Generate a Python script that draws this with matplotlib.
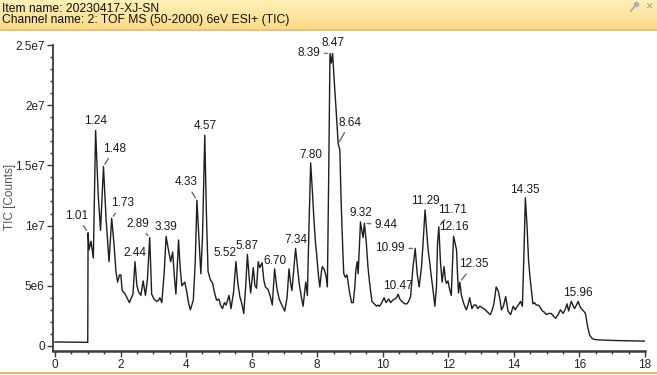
import matplotlib
matplotlib.use("Agg")
import matplotlib.pyplot as plt
import numpy as np
from matplotlib.ticker import MultipleLocator

plt.rcParams["font.family"] = ["Liberation Sans", "DejaVu Sans"]

ITEM_NAME = "Item name: 20230417-XJ-SN"
CHANNEL_NAME = "Channel name: 2: TOF MS (50-2000) 6eV ESI+ (TIC)"
Y_LABEL = "TIC [Counts]"

# retention time (min) and TIC (x1e6 counts)
rt = [
    0.00, 0.99, 1.00, 1.01, 1.04, 1.10, 1.17, 1.24, 1.32, 1.39, 1.48, 1.56, 1.65, 1.73, 1.80,
    1.86, 1.91, 1.97, 2.01, 2.05, 2.12, 2.18, 2.27, 2.33, 2.38, 2.44, 2.50, 2.55, 2.62, 2.69,
    2.76, 2.82, 2.89, 2.95, 3.02, 3.10, 3.16, 3.20, 3.26, 3.33, 3.39, 3.46, 3.53, 3.59, 3.65,
    3.69, 3.73, 3.77, 3.82, 3.87, 3.93, 3.96, 4.02, 4.08, 4.13, 4.22, 4.28, 4.33, 4.38, 4.45,
    4.50, 4.57, 4.62, 4.67, 4.74, 4.81, 4.87, 4.93, 5.00, 5.05, 5.11, 5.17, 5.22, 5.31, 5.37,
    5.45, 5.52, 5.58, 5.64, 5.70, 5.76, 5.82, 5.87, 5.93, 5.97, 6.05, 6.10, 6.15, 6.20, 6.25,
    6.28, 6.32, 6.37, 6.42, 6.50, 6.57, 6.63, 6.70, 6.77, 6.84, 6.92, 7.01, 7.08, 7.14, 7.19,
    7.23, 7.29, 7.34, 7.40, 7.45, 7.52, 7.57, 7.62, 7.65, 7.70, 7.75, 7.80, 7.85, 7.90, 7.95,
    7.98, 8.04, 8.08, 8.13, 8.16, 8.22, 8.27, 8.31, 8.35, 8.39, 8.43, 8.47, 8.52, 8.57, 8.64,
    8.69, 8.73, 8.78, 8.81, 8.86, 8.91, 8.99, 9.05, 9.10, 9.15, 9.18, 9.22, 9.25, 9.29, 9.32,
    9.36, 9.40, 9.44, 9.50, 9.55, 9.60, 9.67, 9.74, 9.81, 9.85, 9.90, 9.97, 10.04, 10.10, 10.18,
    10.24, 10.30, 10.37, 10.42, 10.47, 10.52, 10.58, 10.67, 10.74, 10.79, 10.85, 10.92, 10.99, 11.05, 11.11,
    11.18, 11.24, 11.29, 11.34, 11.38, 11.43, 11.48, 11.54, 11.59, 11.64, 11.67, 11.71, 11.76, 11.81, 11.87,
    11.91, 11.94, 11.99, 12.04, 12.09, 12.13, 12.16, 12.21, 12.25, 12.28, 12.31, 12.35, 12.40, 12.45, 12.50,
    12.55, 12.61, 12.65, 12.72, 12.78, 12.84, 12.90, 12.96, 13.03, 13.13, 13.20, 13.28, 13.34, 13.39, 13.46,
    13.53, 13.58, 13.62, 13.68, 13.75, 13.82, 13.90, 13.98, 14.04, 14.08, 14.16, 14.20, 14.26, 14.31, 14.35,
    14.40, 14.45, 14.50, 14.58, 14.63, 14.68, 14.73, 14.78, 14.87, 14.93, 14.99, 15.06, 15.14, 15.20, 15.27,
    15.35, 15.42, 15.50, 15.56, 15.62, 15.67, 15.75, 15.80, 15.85, 15.91, 15.96, 16.03, 16.09, 16.16, 16.19,
    16.25, 16.31, 16.38, 16.43, 16.61, 17.10, 18.00,
]
tic = [
    0.33, 0.30, 0.30, 9.40, 8.00, 8.70, 7.30, 17.90, 12.50, 9.60, 14.90, 10.50, 7.00, 10.60, 8.50,
    6.20, 5.30, 5.90, 5.90, 4.60, 4.40, 4.10, 3.60, 4.00, 4.30, 7.00, 5.00, 4.50, 4.20, 5.40,
    4.20, 5.50, 9.00, 4.30, 3.90, 3.70, 3.80, 4.00, 3.60, 6.00, 9.10, 8.00, 7.00, 7.80, 5.50,
    4.30, 6.50, 8.80, 6.50, 5.00, 5.20, 5.30, 4.50, 3.50, 3.00, 3.80, 7.00, 12.10, 9.50, 6.00,
    9.00, 17.50, 11.00, 6.20, 5.50, 5.20, 4.40, 3.80, 3.90, 3.40, 3.10, 3.60, 3.40, 4.20, 3.10,
    4.50, 7.00, 5.20, 4.10, 3.50, 2.70, 5.00, 7.60, 5.50, 4.40, 6.50, 5.00, 4.80, 7.00, 6.50,
    6.70, 6.90, 5.50, 4.90, 4.70, 4.10, 3.40, 6.40, 4.80, 3.90, 3.40, 2.90, 4.00, 6.40, 5.20,
    4.60, 6.50, 8.10, 6.50, 5.20, 4.00, 3.30, 4.50, 5.30, 4.20, 10.00, 15.20, 13.00, 10.50, 8.50,
    7.70, 5.80, 4.90, 6.20, 6.60, 6.30, 5.80, 4.90, 14.00, 24.30, 23.50, 24.30, 22.00, 19.90, 16.80,
    16.30, 12.00, 8.00, 6.00, 5.70, 5.90, 4.40, 3.60, 3.60, 5.00, 6.30, 7.00, 6.00, 8.50, 10.30,
    9.60, 9.00, 10.20, 8.50, 6.50, 5.20, 3.70, 3.50, 3.30, 3.40, 3.30, 3.60, 4.00, 3.60, 3.90,
    3.60, 3.80, 3.90, 4.00, 4.30, 3.90, 3.70, 3.50, 3.50, 3.70, 4.10, 6.50, 8.10, 6.00, 4.90,
    6.50, 9.00, 11.30, 9.50, 8.10, 7.00, 5.80, 4.50, 3.30, 5.00, 8.50, 9.90, 7.00, 5.30, 6.60,
    5.50, 5.20, 5.40, 4.70, 4.20, 7.00, 9.10, 8.50, 8.00, 6.00, 4.40, 5.30, 4.20, 3.70, 3.30,
    3.00, 3.50, 4.00, 3.10, 3.40, 3.40, 3.10, 3.30, 3.20, 3.00, 2.80, 2.60, 3.00, 3.50, 4.90,
    4.50, 3.80, 3.00, 3.30, 4.10, 2.90, 2.60, 3.30, 3.00, 3.20, 3.50, 3.70, 3.30, 8.00, 12.30,
    10.00, 7.00, 5.50, 3.50, 3.60, 3.40, 3.40, 3.30, 2.90, 2.80, 2.60, 2.70, 2.70, 2.50, 2.30,
    2.60, 3.00, 2.70, 3.00, 3.50, 2.90, 3.70, 3.40, 3.10, 3.40, 3.70, 3.20, 3.00, 2.80, 2.60,
    1.60, 0.90, 0.65, 0.55, 0.50, 0.45, 0.40,
]

peak_labels = [
    "1.01", "1.24", "1.48", "1.73", "2.44", "2.89", "3.39", "4.33", "4.57", "5.52",
    "5.87", "6.70", "7.34", "7.80", "8.39", "8.47", "8.64", "9.32", "9.44", "10.47",
    "10.99", "11.29", "11.71", "12.16", "12.35", "14.35", "15.96",
]

y_ticks = [0, 5e6, 1e7, 1.5e7, 2e7, 2.5e7]
y_tick_labels = ["0", "5e6", "1e7", "1.5e7", "2e7", "2.5e7"]
x_ticks = [0, 2, 4, 6, 8, 10, 12, 14, 16, 18]

# label placement (pixels from the peak apex) and whether a leader line is drawn
label_offsets = {
    "1.01": (-11, 17, True), "1.24": (0, 9, False), "1.48": (11, 18, True),
    "1.73": (11, 15, True), "2.44": (0, 9, False), "2.89": (-12, 14, True),
    "3.39": (0, 9, False), "4.33": (-11, 18, True), "4.57": (0, 9, False),
    "5.52": (-11, 9, True), "5.87": (0, 8, False), "6.70": (0, 8, False),
    "7.34": (0, 8, False), "7.80": (0, 8, False), "8.39": (-21, 0, True),
    "8.47": (0, 10, False), "8.64": (12, 21, True), "9.32": (0, 9, False),
    "9.44": (22, -2, True), "10.47": (0, 8, False), "10.99": (-25, 0, True),
    "11.29": (0, 9, False), "11.71": (14, 17, True), "12.16": (0, 9, False),
    "12.35": (14, 18, True), "14.35": (0, 8, False), "15.96": (0, 8, False),
}

W, H = 657, 375
fig = plt.figure(figsize=(W / 100, H / 100), dpi=100)
fig.patch.set_facecolor("white")

# header band
hdr = fig.add_axes([0, 1 - 29 / H, 1, 29 / H])
grad = np.linspace(0, 1, 50)[:, None]
hdr.imshow(grad, aspect="auto", extent=[0, 1, 0, 1],
           cmap=matplotlib.colors.LinearSegmentedColormap.from_list("hdr", ["#fff0b8", "#fbdb8a"]))
hdr.set_xlim(0, 1)
hdr.set_ylim(0, 1)
hdr.axis("off")
hdr.text(2 / W, 0.70, ITEM_NAME, fontsize=8.7, color="#111111", va="center", ha="left")
hdr.text(2 / W, 0.32, CHANNEL_NAME, fontsize=8.7, color="#111111", va="center", ha="left")
hdr.text(649 / W, 0.78, "\u00d7", fontsize=9, color="#9a9a9a", va="center", ha="center")
hdr.plot([631 / W, 637 / W], [0.62, 0.9], color="#a8a8a8", lw=1.2)
hdr.plot([636 / W], [0.85], marker="o", ms=3, color="#b0b0b0")
fig.add_artist(plt.Line2D([0, 1], [1 - 29.5 / H, 1 - 29.5 / H], color="#e2bb55", lw=1.2))
fig.add_artist(plt.Line2D([0, 1], [2 / H, 2 / H], color="#e2bb55", lw=1.5))

ax = fig.add_axes([53 / W, (H - 351) / H, (645 - 53) / W, (351 - 45) / H])
t = np.array(rt)
y = np.array(tic) * 1e6
ax.plot(t, y, color="#1e1e1e", lw=1.0)

ax.set_xlim(-0.06, 18)
ax.set_ylim(-0.42e6, 2.5e7)
ax.set_xticks(x_ticks)
ax.set_xticklabels([str(v) for v in x_ticks])
ax.set_yticks(y_ticks)
ax.set_yticklabels(y_tick_labels)
ax.xaxis.set_minor_locator(MultipleLocator(0.5))
ax.yaxis.set_minor_locator(MultipleLocator(1e6))
for side in ("top", "right"):
    ax.spines[side].set_visible(False)
ax.spines["left"].set_color("#3a3a3a")
ax.spines["bottom"].set_color("#3a3a3a")
ax.spines["left"].set_linewidth(1.3)
ax.spines["bottom"].set_linewidth(1.8)
ax.tick_params(which="major", length=4, width=1, color="#3a3a3a", labelsize=8.5,
               labelcolor="#222222", pad=2)
ax.tick_params(which="minor", length=2.5, width=1, color="#3a3a3a")
ax.set_ylabel(Y_LABEL, fontsize=8.5, color="#555555")
ax.yaxis.set_label_coords((16 - 53) / (645 - 53), (351 - 197) / (351 - 45))

for lab in peak_labels:
    px = float(lab)
    py = np.interp(px, t, y)
    dx, dy, lead = label_offsets[lab]
    kw = {}
    if lead:
        kw["arrowprops"] = dict(arrowstyle="-", color="#6a6a6a", lw=1.0, shrinkA=1, shrinkB=2)
    ax.annotate(lab, xy=(px, py), xytext=(dx, dy), textcoords="offset pixels",
                ha="center", va="center", fontsize=8.5, color="#1a1a1a", **kw)

fig.savefig("out.png", dpi=100)
